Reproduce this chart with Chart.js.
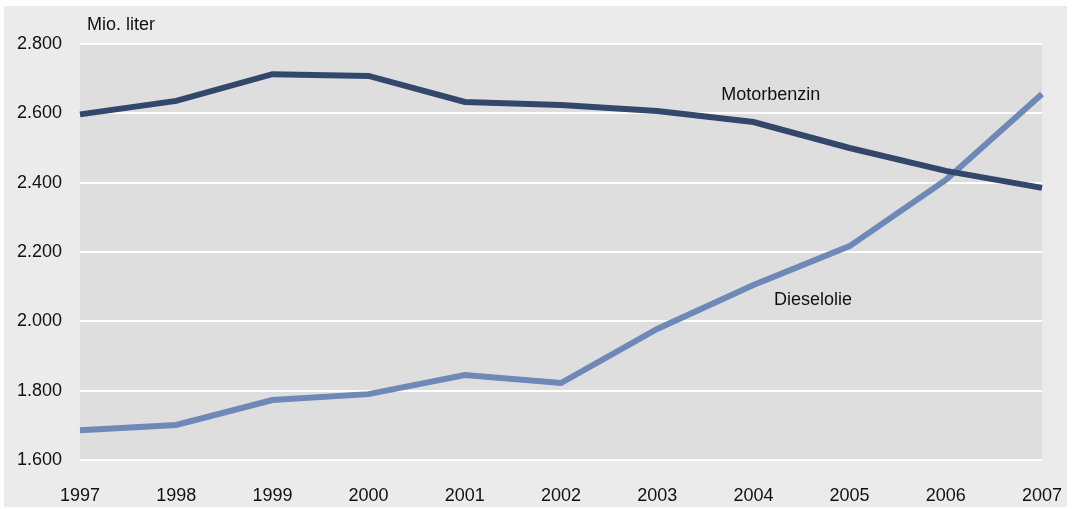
<!DOCTYPE html>
<html>
<head>
<meta charset="utf-8">
<script src="https://cdn.jsdelivr.net/npm/chart.js@4/dist/chart.umd.min.js"></script>
<style>
    html, body { margin: 0; padding: 0; background: #ffffff; }
    #wrap { position: absolute; left: 4px; top: 6px; width: 1063px; height: 501px; background: #ebebeb; }
    canvas { display: block; }
</style>
</head>
<body>
<div id="wrap"><canvas id="chart" width="1063" height="501"></canvas></div>
<script>
    // Mio. liter
    let years = ["1997", "1998", "1999", "2000", "2001", "2002", "2003", "2004", "2005", "2006", "2007"];
    let motorbenzin = [2597, 2636, 2713, 2708, 2633, 2624, 2607, 2575, 2500, 2434, 2385];
    let dieselolie = [1686, 1701, 1773, 1790, 1845, 1822, 1978, 2105, 2217, 2408, 2656];
    let yTicks = [1600, 1800, 2000, 2200, 2400, 2600, 2800];

    let font = "'Liberation Sans', Arial, sans-serif";

    let plotBackground = {
        id: "plotBackground",
        beforeDraw: (chart) => {
            let { ctx, chartArea } = chart;
            ctx.save();
            ctx.fillStyle = "#dedede";
            ctx.fillRect(chartArea.left, chartArea.top, chartArea.right - chartArea.left, chartArea.bottom - chartArea.top);
            ctx.restore();
        }
    };

    let labels = {
        id: "labels",
        afterDatasetsDraw: (chart) => {
            let { ctx, scales } = chart;
            ctx.save();
            ctx.fillStyle = "#111111";
            ctx.font = "18px " + font;
            ctx.textBaseline = "middle";
            ctx.textAlign = "center";
            ctx.fillText("Motorbenzin", scales.x.getPixelForValue(7.18), scales.y.getPixelForValue(2653));
            ctx.fillText("Dieselolie", scales.x.getPixelForValue(7.62), scales.y.getPixelForValue(2061));
            ctx.textAlign = "left";
            ctx.fillText("Mio. liter", 83, 19);
            ctx.restore();
        }
    };

    new Chart("chart", {
        type: "line",
        data: {
            labels: years,
            datasets: [{
                label: "Motorbenzin",
                data: motorbenzin,
                borderColor: "#33476a",
                borderWidth: 6,
                pointRadius: 0,
                fill: false,
                tension: 0
            }, {
                label: "Dieselolie",
                data: dieselolie,
                borderColor: "#6e88b7",
                borderWidth: 6,
                pointRadius: 0,
                fill: false,
                tension: 0
            }]
        },
        options: {
            responsive: false,
            animation: false,
            layout: { padding: { top: 38, right: 25, left: 0, bottom: 0 } },
            plugins: { legend: { display: false }, tooltip: { enabled: false } },
            scales: {
                x: {
                    offset: false,
                    grid: { display: false, drawTicks: false },
                    border: { display: false },
                    ticks: { color: "#111111", font: { family: font, size: 18 }, padding: 25, maxRotation: 0, autoSkip: false },
                    afterFit: (scale) => {
                        scale.height = 47;
                        scale.paddingLeft = 0;
                        scale.paddingRight = 0;
                    }
                },
                y: {
                    min: 1600,
                    max: 2800,
                    afterBuildTicks: (scale) => { scale.ticks = yTicks.map(v => ({ value: v })); },
                    grid: { color: "#ffffff", lineWidth: 2, drawTicks: false },
                    border: { display: false },
                    ticks: {
                        color: "#111111",
                        font: { family: font, size: 18 },
                        padding: 18,
                        callback: (v) => v.toLocaleString("de-DE")
                    },
                    afterFit: (scale) => {
                        scale.width = 76;
                        scale.paddingTop = 0;
                        scale.paddingBottom = 0;
                    }
                }
            }
        },
        plugins: [plotBackground, labels]
    });
</script>
</body>
</html>
